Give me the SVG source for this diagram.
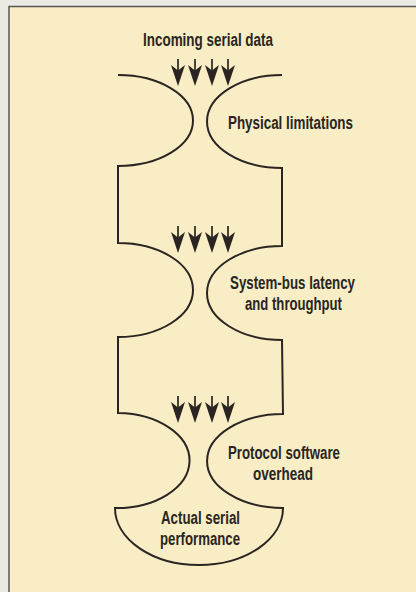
<svg xmlns="http://www.w3.org/2000/svg" width="416" height="592" viewBox="0 0 416 592">
<style>
.lbl{font-family:"Liberation Sans",Arial,sans-serif;font-weight:bold;font-size:18px;fill:#2a2522}
.outline{fill:none;stroke:#2a2522;stroke-width:2}
.shaft{stroke:#2a2522;stroke-width:1.7}
.head{fill:#2a2522}
</style>
<defs>
<g id="arrow">
<line class="shaft" x1="0" y1="-27" x2="0" y2="-12"/>
<path class="head" d="M0,0 L-7,-21 L0,-15.5 L7,-21 Z"/>
</g>
</defs>
<rect x="0" y="0" width="416" height="592" fill="#eae9e4"/>
<rect x="9" y="6" width="407" height="586" fill="#f8edc4"/>
<path d="M9,592 V6.5 H416" fill="none" stroke="#5a5650" stroke-width="1.5"/>
<g id="funnel">
<path class="outline" d="M118,75 A75,45.5 0 0 1 118,166 L118,243 A75,47 0 0 1 118,337 L118,413 A73,47.5 0 0 1 115,508 A84,57 0 0 0 283,508 A76,47 0 0 1 283,414 L282,340 A75,47 0 0 1 282,246 L282,168 A75,46.5 0 0 1 282,75"/>
</g>
<g id="input">
<text class="lbl" x="143" y="46" textLength="130" lengthAdjust="spacingAndGlyphs">Incoming serial data</text>
</g>
<g id="stage-physical">
<text class="lbl" x="228" y="129" textLength="125" lengthAdjust="spacingAndGlyphs">Physical limitations</text>
</g>
<g id="stage-bus">
<text class="lbl" x="230" y="289" textLength="125" lengthAdjust="spacingAndGlyphs">System-bus latency</text>
<text class="lbl" x="245" y="310" textLength="97" lengthAdjust="spacingAndGlyphs">and throughput</text>
</g>
<g id="stage-protocol">
<text class="lbl" x="228" y="459" textLength="112" lengthAdjust="spacingAndGlyphs">Protocol software</text>
<text class="lbl" x="253" y="480" textLength="60" lengthAdjust="spacingAndGlyphs">overhead</text>
</g>
<g id="output">
<text class="lbl" x="161" y="524" textLength="79" lengthAdjust="spacingAndGlyphs">Actual serial</text>
<text class="lbl" x="160" y="545" textLength="80" lengthAdjust="spacingAndGlyphs">performance</text>
</g>
<g id="connectors">
<use href="#arrow" x="178" y="86"/>
<use href="#arrow" x="195" y="86"/>
<use href="#arrow" x="212" y="86"/>
<use href="#arrow" x="228" y="86"/>
<use href="#arrow" x="178" y="253"/>
<use href="#arrow" x="195" y="253"/>
<use href="#arrow" x="212" y="253"/>
<use href="#arrow" x="228" y="253"/>
<use href="#arrow" x="178" y="423"/>
<use href="#arrow" x="195" y="423"/>
<use href="#arrow" x="212" y="423"/>
<use href="#arrow" x="228" y="423"/>
</g>
</svg>
